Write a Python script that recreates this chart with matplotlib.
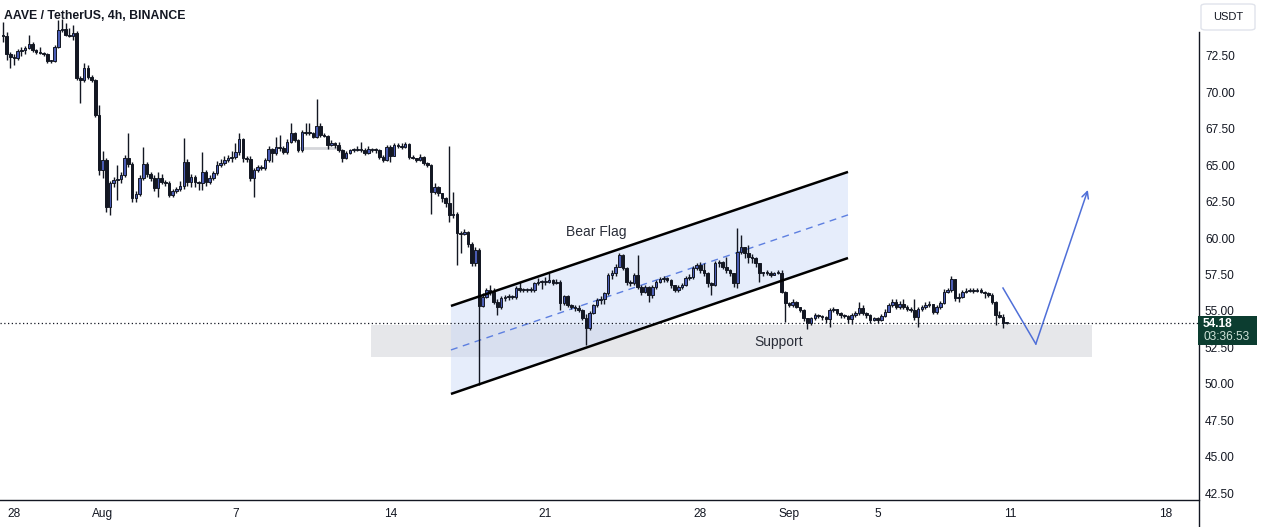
import matplotlib
matplotlib.use("Agg")
import matplotlib.pyplot as plt
import numpy as np
from matplotlib.patches import Rectangle, FancyBboxPatch, Polygon
from matplotlib.lines import Line2D

plt.rcParams['font.family'] = ['Liberation Sans', 'DejaVu Sans']

# ---------------- data (AAVE/USDT 4h candles) ----------------
first_open = 73.94
closes_a = [73.90, 72.61, 72.45, 72.38, 72.84, 72.90, 73.02, 73.30, 72.91, 72.75,
            72.70, 72.61, 72.15, 72.18, 73.14, 74.28, 74.35, 73.94, 73.90, 74.05,
            70.96, 70.85, 71.65, 71.08, 70.85, 68.45, 64.67, 65.36, 62.15, 63.75,
            63.98, 64.02, 64.33, 65.52, 65.06, 62.72, 63.00, 64.10, 65.06, 64.37,
            64.10, 63.46, 64.14, 63.87, 63.75, 62.95, 63.23, 63.36, 63.57, 65.24,
            63.87, 64.21, 63.82, 63.75, 64.55, 63.87, 64.14, 64.44, 65.01, 65.13,
            65.36, 65.47, 65.58, 65.93, 66.80, 65.47, 65.40, 64.10]
highs_a = [74.85, 74.17, 72.75, 72.60, 72.95, 73.10, 73.15, 73.94, 73.48, 73.00,
           73.14, 72.80, 72.70, 72.25, 73.25, 75.00, 75.05, 74.75, 74.40, 74.62,
           74.20, 71.10, 72.00, 71.90, 71.20, 70.95, 69.13, 66.00, 65.50, 63.95,
           64.20, 65.01, 64.50, 65.70, 67.19, 65.20, 63.20, 64.30, 66.27, 65.20,
           64.50, 64.30, 64.50, 64.40, 64.00, 63.90, 63.40, 63.50, 63.90, 66.89,
           65.40, 64.40, 64.30, 63.95, 65.93, 64.70, 64.30, 64.60, 65.30, 65.40,
           65.60, 65.70, 66.00, 66.50, 67.19, 66.90, 65.60, 65.60]
lows_a = [73.48, 72.22, 71.70, 71.88, 72.22, 72.50, 72.60, 72.95, 72.80, 72.65,
          72.60, 72.50, 72.05, 72.05, 72.10, 73.05, 74.15, 73.85, 73.80, 73.60,
          70.85, 69.25, 70.70, 70.95, 70.70, 68.30, 64.30, 64.10, 61.80, 61.58,
          63.50, 62.61, 63.80, 64.20, 64.90, 62.50, 62.50, 62.90, 64.00, 64.20,
          63.90, 63.20, 62.84, 63.70, 63.60, 62.80, 62.85, 63.10, 63.20, 63.40,
          63.60, 63.50, 63.50, 63.30, 63.30, 63.60, 63.70, 64.00, 64.30, 64.90,
          65.00, 65.20, 65.20, 65.40, 65.70, 65.20, 65.20, 63.90]

closes_b = [64.68, 64.86, 64.80, 65.36, 66.10, 65.82, 66.23, 66.17, 65.94, 66.62,
            67.24, 66.74, 66.05, 67.31, 67.24, 67.20, 66.97, 67.70, 67.08, 67.02,
            66.39, 66.51, 66.39, 66.05, 65.48, 65.87, 66.01, 66.05, 66.10, 66.05,
            65.87, 66.10, 66.05, 66.01, 65.59, 65.36, 66.28, 65.64, 66.39, 66.33,
            66.28, 66.46, 65.59, 65.52, 65.36, 65.59, 65.18, 65.02, 63.19, 63.53,
            63.08, 62.73, 62.39, 61.59, 61.66, 60.33, 60.28, 60.44, 59.60, 58.27,
            59.19, 55.34]
highs_b = [64.80, 65.00, 65.00, 65.50, 66.30, 66.20, 66.92, 67.08, 66.30, 66.80,
           67.93, 67.30, 66.80, 67.40, 67.88, 67.88, 67.30, 69.53, 67.88, 67.20,
           67.10, 66.70, 66.60, 66.60, 66.10, 66.00, 66.10, 66.20, 66.30, 66.62,
           66.20, 66.30, 66.20, 66.20, 66.10, 65.70, 66.40, 66.40, 66.50, 66.50,
           66.50, 66.62, 66.50, 65.70, 65.50, 65.75, 65.60, 65.20, 65.05, 63.80,
           63.60, 63.10, 62.80, 66.33, 63.19, 61.80, 60.50, 60.60, 60.50, 59.70,
           59.40, 59.30]
lows_b = [62.85, 64.50, 64.70, 64.70, 65.20, 65.25, 65.70, 66.00, 65.80, 65.80,
          66.50, 66.60, 65.90, 65.90, 67.10, 67.10, 66.85, 66.90, 66.95, 66.95,
          66.10, 66.30, 66.20, 65.90, 65.20, 65.40, 65.80, 65.90, 65.95, 65.90,
          65.70, 65.80, 65.90, 65.85, 65.40, 65.20, 65.30, 65.20, 65.60, 66.20,
          66.10, 66.20, 65.40, 65.40, 65.20, 65.30, 65.00, 64.90, 61.66, 63.00,
          62.90, 62.50, 62.10, 61.13, 61.40, 58.16, 59.00, 60.20, 59.40, 58.10,
          58.10, 49.92]

closes_c = [55.98, 56.43, 56.32, 55.63, 55.24, 55.86, 55.93, 55.98, 55.93, 56.55,
            56.43, 56.48, 56.43, 56.43, 56.89, 57.01, 56.95, 57.01, 57.12, 56.94,
            57.01, 55.52, 56.02, 55.40, 55.24, 55.18, 55.06, 54.49, 53.80, 54.83,
            55.40, 55.75, 55.79, 56.21, 57.46, 57.58, 58.04, 58.84, 57.92, 57.01,
            56.89, 57.46, 56.66, 56.32, 56.66, 56.09, 56.66, 57.01, 57.17, 57.24,
            57.12, 56.78, 56.43, 56.66, 56.78, 57.24, 57.35, 57.92, 58.15, 57.81,
            57.58, 56.89, 56.78, 58.27, 58.38, 58.04, 57.81, 57.58, 56.89, 59.07,
            59.41, 58.95, 58.72, 58.61, 58.27, 57.58]
highs_c = [56.20, 56.60, 56.80, 56.55, 55.80, 56.00, 56.10, 56.15, 56.10, 56.70,
           57.00, 56.60, 56.60, 56.66, 57.00, 57.24, 57.10, 57.35, 57.58, 57.20,
           57.20, 57.10, 56.10, 56.10, 55.50, 55.40, 55.40, 55.10, 54.80, 55.00,
           55.50, 55.90, 56.00, 56.30, 57.60, 57.80, 58.20, 58.95, 58.90, 58.00,
           57.10, 57.60, 58.84, 56.80, 56.80, 56.70, 56.80, 57.10, 57.30, 57.40,
           57.30, 57.20, 56.80, 56.80, 56.90, 57.40, 57.50, 58.10, 58.30, 58.35,
           58.30, 57.70, 57.00, 58.40, 58.50, 58.40, 58.68, 57.90, 57.60, 60.67,
           60.21, 59.40, 59.50, 58.90, 58.70, 58.30]
lows_c = [55.30, 55.90, 56.10, 55.50, 54.72, 55.10, 55.70, 55.75, 55.80, 55.85,
          56.30, 56.30, 56.30, 56.30, 56.30, 56.80, 56.50, 56.80, 56.90, 56.80,
          56.85, 55.06, 55.40, 55.30, 55.10, 55.00, 54.90, 54.38, 52.66, 53.70,
          54.80, 55.30, 55.50, 55.50, 56.10, 57.20, 57.40, 58.00, 57.80, 56.80,
          56.70, 56.80, 56.50, 56.10, 56.20, 55.63, 55.90, 56.50, 56.90, 57.00,
          57.00, 56.60, 56.30, 56.30, 56.50, 56.70, 57.10, 57.20, 57.80, 57.60,
          57.40, 56.66, 56.09, 56.70, 58.00, 57.90, 57.60, 57.40, 56.66, 56.60,
          58.90, 58.60, 58.30, 58.30, 58.00, 57.00]

closes_d = [57.62, 57.58, 57.47, 57.58, 57.62, 56.32, 55.52, 55.41, 55.63, 55.29,
            55.06, 54.49, 54.15, 54.49, 54.72, 54.65, 54.56, 54.42, 55.06, 55.11,
            54.83, 54.72, 54.65, 54.42, 54.72, 54.83, 55.17, 54.83, 54.72, 54.38,
            54.49, 54.38, 54.65, 54.95, 55.41, 55.63, 55.25, 55.47, 55.25, 55.11,
            55.06, 54.56, 55.11, 55.25, 55.41, 55.47, 54.95, 55.25, 55.57, 56.32,
            56.44, 57.17, 55.86, 55.95, 56.32, 56.39, 56.44, 56.39, 56.44, 56.32,
            56.21, 56.09, 55.63, 54.72, 54.60, 54.15, 54.18]
highs_d = [57.70, 57.80, 57.75, 57.70, 57.80, 57.80, 56.40, 55.60, 55.80, 55.70,
           55.30, 55.10, 54.50, 54.60, 54.85, 54.80, 54.75, 54.65, 55.20, 55.30,
           55.15, 54.90, 54.80, 54.70, 54.85, 55.00, 55.64, 55.40, 54.90, 54.80,
           54.60, 54.60, 54.80, 55.10, 55.55, 55.85, 55.80, 55.70, 55.80, 55.40,
           55.25, 55.80, 55.30, 55.40, 55.60, 55.65, 55.50, 55.40, 55.70, 56.50,
           56.60, 57.40, 57.20, 56.20, 56.45, 56.55, 56.60, 56.55, 56.60, 56.55,
           56.40, 56.30, 56.20, 55.70, 55.00, 54.80, 54.22]
lows_d = [57.40, 57.45, 57.35, 57.45, 57.50, 56.21, 54.26, 55.30, 55.30, 55.20,
          54.90, 54.30, 53.73, 54.00, 54.40, 54.50, 54.35, 54.20, 53.92, 54.90,
          54.70, 54.50, 54.50, 54.20, 54.10, 54.60, 54.70, 54.70, 54.50, 54.20,
          54.30, 54.20, 54.30, 54.55, 54.90, 55.30, 55.10, 55.10, 55.10, 55.00,
          54.90, 54.40, 53.92, 55.00, 55.10, 55.30, 54.80, 54.80, 55.10, 55.50,
          56.20, 56.30, 55.70, 55.60, 55.90, 56.20, 56.30, 56.25, 56.30, 56.20,
          55.90, 55.95, 55.50, 54.03, 54.50, 53.80, 54.12]

# date labels (candle index positions, first candle = Jul 27 12:00, 4h each)
date_pos = [3, 27, 63, 105, 147, 189, 213, 237, 273, 315]
date_labels = ['28', 'Aug', '7', '14', '21', '28', 'Sep', '5', '11', '18']
price_ticks = [42.5, 45.0, 47.5, 50.0, 52.5, 55.0, 57.5, 60.0, 62.5, 65.0, 67.5, 70.0, 72.5]
last_price = 54.18
countdown = '03:36:53'

# drawings
channel_x = [121.4, 229.0]
channel_upper = [55.34, 64.54]
channel_lower = [49.30, 58.63]
channel_mid = [52.32, 61.59]
support_x = [99.7, 295.1]
support_y = [51.83, 54.03]
support_label_pos = (210.3, 52.87)
flag_label_pos = (160.7, 60.42)
path_x = [271.0, 279.9, 294.0]
path_y = [56.57, 52.73, 63.30]
gray_seg_x = [80.5, 91.3]
gray_seg_y = 66.18

# ---------------- build ----------------
closes = np.array(closes_a + closes_b + closes_c + closes_d)
highs = np.array(highs_a + highs_b + highs_c + highs_d)
lows = np.array(lows_a + lows_b + lows_c + lows_d)
opens = np.r_[first_open, closes[:-1]]
highs = np.maximum(highs, np.maximum(opens, closes))
lows = np.minimum(lows, np.minimum(opens, closes))
idx = np.arange(len(closes))

W, H = 1261, 527
fig = plt.figure(figsize=(W / 100, H / 100), dpi=100)
fig.patch.set_facecolor('white')
ax = fig.add_axes([0, 27 / H, 1198 / W, 500 / H])
ax.set_xlim(-0.81, 323.85)
ax.set_ylim(42.02, 76.34)
ax.set_facecolor('white')
for s in ax.spines.values():
    s.set_visible(False)

TXT = '#131722'
UP = '#4a5cb4'
DOWN = '#131722'

# support zone and channel fill
ax.add_patch(Rectangle((support_x[0], support_y[0]), support_x[1] - support_x[0],
                       support_y[1] - support_y[0], facecolor='#b2b5be', alpha=0.32,
                       edgecolor='none', zorder=0.5))
ax.add_patch(Polygon([(channel_x[0], channel_lower[0]), (channel_x[1], channel_lower[1]),
                      (channel_x[1], channel_upper[1]), (channel_x[0], channel_upper[0])],
                     closed=True, facecolor='#c5d5f7', alpha=0.42, edgecolor='none', zorder=0.6))
ax.plot(channel_x, channel_mid, color='#5d7fe0', lw=1.0, dashes=(5, 4), zorder=2)
ax.plot(gray_seg_x, [gray_seg_y, gray_seg_y], color='#d5d6da', lw=2, zorder=1)

# last price dotted line
ax.axhline(last_price, color=TXT, lw=0.9, linestyle=(0, (1, 2)), zorder=2)

# candles
ax.vlines(idx, lows, highs, color='#131722', lw=1, zorder=3)
up = closes >= opens
body_h = np.maximum(np.abs(closes - opens), 0.07)
body_b = np.minimum(opens, closes)
ax.bar(idx[up], body_h[up], bottom=body_b[up], width=0.7, color=UP,
       edgecolor='#131722', linewidth=0.7, zorder=4)
ax.bar(idx[~up], body_h[~up], bottom=body_b[~up], width=0.7, color=DOWN,
       edgecolor='#131722', linewidth=0.7, zorder=4)

# channel lines
ax.plot(channel_x, channel_upper, color='black', lw=1.8, zorder=5, solid_capstyle='butt')
ax.plot(channel_x, channel_lower, color='black', lw=1.8, zorder=5, solid_capstyle='butt')

# labels
ax.text(*flag_label_pos, 'Bear Flag', fontsize=10, color='#2a2e39', ha='center', va='center', zorder=6)
ax.text(*support_label_pos, 'Support', fontsize=10, color='#2a2e39', ha='center', va='center', zorder=6)

# projected path
ax.plot(path_x[:2], path_y[:2], color='#4f6fd8', lw=1.1, zorder=6)
ax.annotate('', xy=(path_x[2], path_y[2]), xytext=(path_x[1], path_y[1]),
            arrowprops=dict(arrowstyle='->', color='#4f6fd8', lw=1.1, mutation_scale=12,
                            shrinkA=0, shrinkB=0), zorder=6)

# axes ticks
ax.set_xticks(date_pos)
ax.set_xticklabels(date_labels)
ax.yaxis.tick_right()
ax.set_yticks(price_ticks)
ax.set_yticklabels([f'{v:.2f}' for v in price_ticks])
ax.tick_params(axis='x', length=0, pad=6, labelsize=8.6, labelcolor=TXT)
ax.tick_params(axis='y', length=0, pad=5, labelsize=8.6, labelcolor=TXT)

# frame lines (price scale and time scale)
fig.add_artist(Line2D([1198.5 / W, 1198.5 / W], [0, 1 - 32 / H], transform=fig.transFigure,
                      color=TXT, lw=1))
fig.add_artist(Line2D([0, 1198.5 / W], [27 / H, 27 / H], transform=fig.transFigure,
                      color=TXT, lw=1))

# title
fig.text(4 / W, 1 - 16 / H, 'AAVE / TetherUS, 4h, BINANCE', fontsize=8.8, fontweight='bold',
         color=TXT, ha='left', va='center')

# USDT box
fig.add_artist(FancyBboxPatch((1201 / W, 1 - 30 / H), 54 / W, 26 / H,
                              boxstyle='round,pad=0,rounding_size=0.004',
                              transform=fig.transFigure, facecolor='white',
                              edgecolor='#e0e3eb', lw=1))
fig.text(1228 / W, 1 - 17 / H, 'USDT', fontsize=8, color=TXT, ha='center', va='center')

# last price label box
py = ax.transData.transform((0, last_price))[1]  # display px from bottom
top = py + 7
fig.add_artist(Rectangle((1198 / W, (top - 29) / H), 59 / W, 29 / H, transform=fig.transFigure,
                         facecolor='#0c3d30', edgecolor='none', zorder=5))
fig.text(1203 / W, (top - 8) / H, f'{last_price:.2f}', fontsize=8.6, fontweight='bold',
         color='white', ha='left', va='center', zorder=6)
fig.text(1203 / W, (top - 21.5) / H, countdown, fontsize=8.6, color='#cfe2d8',
         ha='left', va='center', zorder=6)

fig.savefig('out.png', dpi=100, facecolor='white')
